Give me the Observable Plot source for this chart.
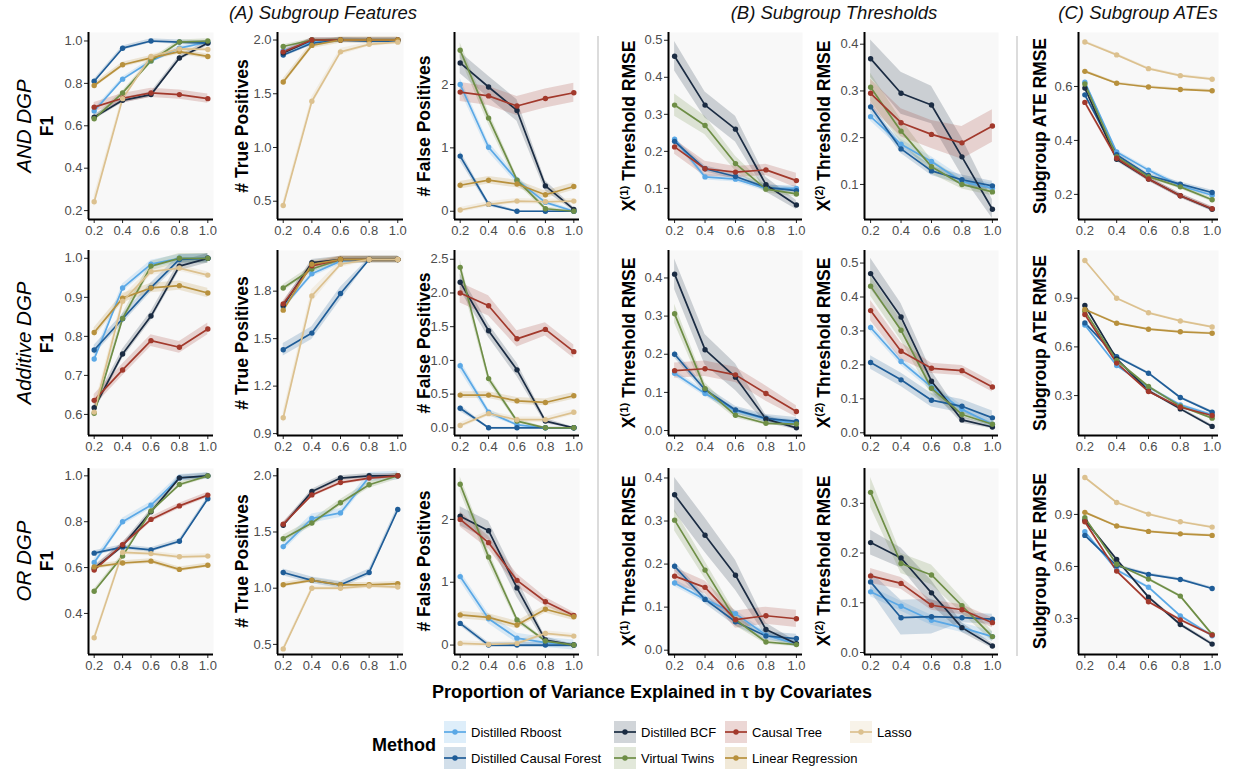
<!DOCTYPE html>
<html><head><meta charset="utf-8">
<script src="https://cdn.jsdelivr.net/npm/d3@7"></script>
<script src="https://cdn.jsdelivr.net/npm/@observablehq/plot@0.6"></script>
<style>
body{margin:0;background:#fff;font-family:"Liberation Sans",Arial,sans-serif;}
#root{position:relative;width:1243px;height:772px;overflow:hidden;background:#fff;}
.hdr{position:absolute;font-style:italic;font-size:18.5px;white-space:nowrap;transform:translate(-50%,-50%);color:#111;}
.ylab{position:absolute;font-weight:bold;font-size:17.5px;white-space:nowrap;transform:translate(-50%,-50%) rotate(-90deg);color:#000;}
.dgp{position:absolute;font-style:italic;font-size:20.5px;white-space:nowrap;transform:translate(-50%,-50%) rotate(-90deg);color:#000;}
.ylab sup{font-size:11.5px;vertical-align:7px;line-height:0;}
.sep{position:absolute;width:2px;background:#dcdcdc;}
.panel{position:absolute;}
.leg{position:absolute;font-size:13px;white-space:nowrap;transform:translateY(-50%);color:#000;}
.legkey{position:absolute;transform:translateY(-50%);}
</style></head><body><div id="root"></div>
<script>
// ---------- data ----------
const methods = ["Distilled Rboost","Distilled Causal Forest","Distilled BCF","Virtual Twins","Causal Tree","Linear Regression","Lasso"];
const colors  = ["#5aa8e6","#1f5d98","#1b2c43","#6e8e46","#a2392c","#b8913d","#dcc18f"];
const props   = [0.2,0.4,0.6,0.8,1.0];
const dgps    = ["AND DGP","Additive DGP","OR DGP"];
const metricLabels = ["F1","# True Positives","# False Positives","X<sup>(1)</sup> Threshold RMSE","X<sup>(2)</sup> Threshold RMSE","Subgroup ATE RMSE"];
const headers = ["(A) Subgroup Features","(B) Subgroup Thresholds","(C) Subgroup ATEs"];
const xTitle  = "Proportion of Variance Explained in τ by Covariates";

// series order: Rboost, Causal Forest, BCF, Virtual Twins, Causal Tree, Linear Regression, Lasso
const andF1 = [[0.67,0.82,0.906,0.966,0.995],[0.81,0.966,1.0,0.995,0.99],[0.64,0.72,0.747,0.92,0.99],[0.633,0.755,0.906,0.995,1.0],[0.688,0.73,0.755,0.747,0.728],[0.79,0.888,0.92,0.95,0.927],[0.242,0.728,0.927,0.963,0.96]];
const andF1Se = [0.01,0.01,0.012,0.01,0.022,0.012,[0.03,0.015,0.01,0.008,0.008]];
const andTP = [[1.90,1.98,2.0,2.0,2.0],[1.86,1.97,2.0,1.99,1.99],[1.88,2.0,2.0,2.0,2.0],[1.94,2.0,2.0,2.0,2.0],[1.89,2.0,2.0,2.0,2.0],[1.61,1.95,2.0,2.0,2.0],[0.46,1.43,1.89,1.96,1.98]];
const andTPSe = [0.02,0.02,0.02,0.015,0.02,0.03,[0.04,0.04,0.03,0.02,0.02]];
const andFP = [[2.0,1.01,0.49,0.14,0.0],[0.87,0.11,0.0,0.0,0.0],[2.34,1.96,1.59,0.40,0.03],[2.54,1.47,0.49,0.04,0.0],[1.88,1.82,1.66,1.78,1.87],[0.41,0.49,0.43,0.26,0.39],[0.02,0.11,0.16,0.15,0.16]];
const andFPSe = [[0.1,0.08,0.06,0.04,0.02],[0.08,0.04,0.01,0.01,0.01],[0.17,0.17,0.17,0.08,0.03],[0.12,0.1,0.06,0.03,0.01],0.15,0.06,0.04];
const andX1 = [[0.233,0.131,0.125,0.10,0.10],[0.227,0.153,0.132,0.103,0.094],[0.457,0.325,0.26,0.11,0.055],[0.325,0.27,0.167,0.098,0.085],[0.212,0.153,0.144,0.15,0.121],null,null];
const andX1Se = [0.008,0.008,[0.04,0.035,0.035,0.02,0.012],[0.03,0.025,0.02,0.01,0.008],[0.02,0.02,0.015,0.015,0.02],0,0];
const andX2 = [[0.245,0.186,0.149,0.106,0.092],[0.266,0.176,0.129,0.11,0.097],[0.369,0.295,0.27,0.159,0.047],[0.308,0.214,0.138,0.10,0.084],[0.295,0.232,0.207,0.189,0.225],null,null];
const andX2Se = [0.01,0.01,[0.04,0.045,0.04,0.04,0.02],[0.03,0.025,0.015,0.01,0.008],[0.03,0.03,0.03,0.035,0.035],0,0];
const andATE = [[0.616,0.357,0.29,0.232,0.197],[0.569,0.347,0.27,0.238,0.207],[0.594,0.33,0.257,0.195,0.145],[0.609,0.34,0.266,0.228,0.18],[0.541,0.334,0.257,0.195,0.147],[0.656,0.612,0.598,0.589,0.584],[0.765,0.717,0.666,0.64,0.627]];
const andATESe = [0.008,0.008,0.008,0.008,0.008,0.005,0.005];

const addF1 = [[0.742,0.924,0.985,1.0,1.0],[0.765,0.845,0.925,0.997,1.0],[0.617,0.755,0.852,0.98,1.0],[0.603,0.846,0.98,1.0,1.0],[0.636,0.714,0.789,0.772,0.819],[0.81,0.898,0.924,0.93,0.911],[0.606,0.89,0.966,0.975,0.957]];
const addF1Se = [0.01,0.012,0.012,0.012,0.015,0.012,[0.015,0.012,0.01,0.008,0.008]];
const addTP = [[1.70,1.91,1.99,2.0,2.0],[1.43,1.535,1.785,2.0,2.0],[1.71,1.98,2.0,2.0,2.0],[1.82,1.94,2.0,2.0,2.0],[1.72,1.96,2.0,2.0,2.0],[1.68,1.97,2.0,2.0,2.0],[1.0,1.77,1.97,2.0,2.0]];
const addTPSe = [0.02,[0.04,0.04,0.04,0.01,0.01],0.02,0.02,0.02,0.02,[0.04,0.04,0.02,0.01,0.01]];
const addFP = [[0.92,0.23,0.045,0.0,0.0],[0.29,0.0,0.0,0.0,0.0],[2.16,1.44,0.86,0.10,0.0],[2.38,0.73,0.10,0.0,0.0],[2.0,1.81,1.32,1.46,1.13],[0.485,0.485,0.40,0.376,0.475],[0.035,0.21,0.12,0.12,0.23]];
const addFPSe = [[0.08,0.05,0.02,0.01,0.01],[0.05,0.01,0.01,0.01,0.01],[0.12,0.1,0.1,0.04,0.01],[0.12,0.06,0.03,0.01,0.01],[0.15,0.15,0.12,0.1,0.1],0.05,0.04];
const addX1 = [[0.15,0.097,0.052,0.03,0.019],[0.2,0.107,0.054,0.032,0.024],[0.41,0.212,0.14,0.03,0.007],[0.306,0.11,0.04,0.019,0.017],[0.157,0.162,0.146,0.097,0.05],null,null];
const addX1Se = [0.008,0.01,[0.04,0.04,0.035,0.01,0.005],[0.025,0.015,0.008,0.005,0.005],[0.02,0.02,0.02,0.02,0.015],0,0];
const addX2 = [[0.31,0.21,0.135,0.069,0.025],[0.207,0.156,0.096,0.078,0.044],[0.469,0.341,0.152,0.038,0.017],[0.432,0.302,0.131,0.054,0.025],[0.36,0.24,0.19,0.183,0.135],null,null];
const addX2Se = [0.012,0.02,[0.045,0.04,0.03,0.01,0.005],[0.03,0.03,0.02,0.01,0.005],[0.03,0.025,0.015,0.015,0.015],0,0];
const addATE = [[0.735,0.485,0.352,0.243,0.181],[0.748,0.54,0.438,0.288,0.198],[0.855,0.526,0.33,0.218,0.11],[0.82,0.516,0.356,0.235,0.161],[0.80,0.50,0.325,0.228,0.177],[0.83,0.746,0.709,0.693,0.684],[1.132,0.90,0.81,0.76,0.723]];
const addATESe = [0.008,0.008,0.01,0.008,0.008,0.006,0.006];

const orF1 = [[0.622,0.80,0.872,0.991,1.0],[0.663,0.689,0.677,0.715,0.90],[0.596,0.695,0.843,0.991,1.0],[0.497,0.65,0.847,0.962,1.0],[0.589,0.70,0.81,0.869,0.916],[0.603,0.62,0.628,0.592,0.61],[0.294,0.666,0.661,0.647,0.65]];
const orF1Se = [0.015,0.01,0.012,0.01,0.012,0.01,0.01];
const orTP = [[1.37,1.62,1.67,1.99,2.0],[1.14,1.07,1.03,1.14,1.70],[1.56,1.86,1.98,2.0,2.0],[1.44,1.58,1.76,1.92,2.0],[1.57,1.83,1.94,1.98,2.0],[1.03,1.07,1.03,1.03,1.04],[0.46,1.0,1.0,1.02,1.01]];
const orTPSe = [0.04,0.03,0.02,0.03,0.02,0.02,0.02];
const orFP = [[1.09,0.42,0.11,0.04,0.0],[0.345,0.0,0.0,0.0,0.0],[2.05,1.82,0.91,0.08,0.0],[2.56,1.40,0.40,0.064,0.0],[2.0,1.63,1.03,0.69,0.47],[0.48,0.44,0.32,0.57,0.45],[0.027,0.01,0.027,0.186,0.143]];
const orFPSe = [0.08,0.04,[0.15,0.15,0.15,0.05,0.01],[0.12,0.1,0.05,0.02,0.01],[0.12,0.1,0.1,0.07,0.05],0.06,0.04];
const orX1 = [[0.156,0.118,0.085,0.035,0.015],[0.195,0.118,0.066,0.033,0.027],[0.361,0.267,0.174,0.048,0.015],[0.302,0.186,0.071,0.019,0.013],[0.172,0.146,0.071,0.08,0.073],null,null];
const orX1Se = [0.008,0.01,[0.04,0.04,0.035,0.015,0.005],[0.025,0.02,0.015,0.005,0.005],[0.02,0.015,0.02,0.02,0.02],0,0];
const orX2 = [[0.122,0.093,0.065,0.05,0.032],[0.142,0.07,0.072,0.07,0.067],[0.221,0.19,0.12,0.05,0.013],[0.322,0.179,0.156,0.094,0.032],[0.154,0.139,0.095,0.086,0.06],null,null];
const orX2Se = [0.01,[0.02,0.035,0.035,0.01,0.01],[0.025,0.02,0.025,0.01,0.005],[0.03,0.02,0.02,0.015,0.01],[0.015,0.012,0.01,0.01,0.01],0,0];
const orATE = [[0.80,0.58,0.48,0.315,0.2],[0.779,0.604,0.554,0.525,0.473],[0.867,0.64,0.423,0.265,0.152],[0.881,0.613,0.527,0.429,0.208],[0.858,0.573,0.396,0.292,0.204],[0.912,0.833,0.802,0.788,0.779],[1.113,0.969,0.902,0.858,0.827]];
const orATESe = [0.008,0.008,0.01,0.008,0.008,0.006,0.006];

// tick values per panel
const yTicks = [
  [[0.2,0.4,0.6,0.8,1.0],[0.5,1.0,1.5,2.0],[0,1,2],[0.1,0.2,0.3,0.4,0.5],[0.1,0.2,0.3,0.4],[0.2,0.4,0.6]],
  [[0.6,0.7,0.8,0.9,1.0],[0.9,1.2,1.5,1.8],[0,0.5,1,1.5,2,2.5],[0,0.1,0.2,0.3,0.4],[0,0.1,0.2,0.3,0.4,0.5],[0.3,0.6,0.9]],
  [[0.4,0.6,0.8,1.0],[0.5,1.0,1.5,2.0],[0,1,2],[0,0.1,0.2,0.3,0.4],[0,0.1,0.2,0.3],[0.3,0.6,0.9]]
];
const yFormats = [
  [".1f",".1f","d",".1f",".1f",".1f"],
  [".1f",".1f",".1f",".1f",".1f",".1f"],
  [".1f",".1f","d",".1f",".1f",".1f"]
];

// ---------- layout (pixels) ----------
const panelData = [
  [[andF1,andF1Se],[andTP,andTPSe],[andFP,andFPSe],[andX1,andX1Se],[andX2,andX2Se],[andATE,andATESe]],
  [[addF1,addF1Se],[addTP,addTPSe],[addFP,addFPSe],[addX1,addX1Se],[addX2,addX2Se],[addATE,addATESe]],
  [[orF1,orF1Se],[orTP,orTPSe],[orFP,orFPSe],[orX1,orX1Se],[orX2,orX2Se],[orATE,orATESe]]
];
const yDomains = [
  [[0.158,1.04],[0.33,2.07],[-0.13,2.82],[0.016,0.521],[0.025,0.425],[0.107,0.80]],
  [[0.546,1.02],[0.888,2.057],[-0.114,2.63],[-0.013,0.472],[-0.008,0.537],[0.054,1.194]],
  [[0.221,1.032],[0.41,2.065],[-0.15,2.81],[-0.01,0.422],[-0.004,0.37],[0.092,1.165]]
];
const rowsPx = [{top:32,bottom:219},{top:250,bottom:435},{top:468,bottom:654}];
const colsPx = [{left:88,right:213,lab:47},{left:277,right:403,lab:242},{left:454,right:579,lab:424},{left:668,right:802,lab:629},{left:864,right:998,lab:824},{left:1078,right:1218,lab:1040}];

const root = document.getElementById("root");
function addDiv(cls, html, x, y){
  const d = document.createElement("div"); d.className = cls; d.innerHTML = html;
  d.style.left = x + "px"; d.style.top = y + "px"; root.appendChild(d); return d;
}

function rowsOf(vals, se){
  const out = [];
  vals.forEach((arr,i)=>{
    if(!arr) return;
    const s = se[i];
    arr.forEach((v,j)=>{
      const e = Array.isArray(s) ? s[j] : s;
      out.push({m:methods[i], x:props[j], y:v, lo:v-e, hi:v+e});
    });
  });
  return out;
}

const mL = 40, mR = 3, mT = 3, mB = 24;
rowsPx.forEach((r,ri)=>{
  colsPx.forEach((c,ci)=>{
    const [vals, se] = panelData[ri][ci];
    const data = rowsOf(vals, se);
    const ydom = yDomains[ri][ci];
    const w = c.right - c.left + mL + mR;
    const h = r.bottom - r.top + mT + mB;
    const svg = Plot.plot({
      width: w, height: h,
      marginLeft: mL, marginRight: mR, marginTop: mT, marginBottom: mB,
      style: {fontFamily:"'Liberation Sans', Arial, sans-serif", fontSize:"13px", background:"transparent", overflow:"visible"},
      x: {domain:[0.16,1.04]},
      y: {domain: ydom},
      color: {domain: methods, range: colors},
      marks: [
        Plot.frame({fill:"#f8f8f8", stroke:null}),
        Plot.areaY(data, {x:"x", y1:"lo", y2:"hi", fill:"m", z:"m", fillOpacity:0.2}),
        Plot.line(data, {x:"x", y:"y", stroke:"m", z:"m", strokeWidth:1.7}),
        Plot.dot(data, {x:"x", y:"y", fill:"m", r:2.7}),
        Plot.axisX({ticks: props, tickFormat: d3.format(".1f"), tickSize:4, tickPadding:2, label:null, stroke:"#222", fill:"#4d4d4d", fontSize:13}),
        Plot.axisY({ticks: yTicks[ri][ci], tickFormat: d3.format(yFormats[ri][ci]), tickSize:4, tickPadding:2, label:null, stroke:"#222", fill:"#4d4d4d", fontSize:13}),
        Plot.ruleX([0.16], {stroke:"#000", strokeWidth:2}),
        Plot.ruleY([ydom[0]], {stroke:"#000", strokeWidth:2})
      ]
    });
    svg.classList.add("panel");
    svg.style.position = "absolute";
    svg.style.left = (c.left - mL) + "px";
    svg.style.top = (r.top - mT) + "px";
    root.appendChild(svg);
    // y axis title
    addDiv("ylab", metricLabels[ci], c.lab, (r.top + r.bottom)/2);
  });
  addDiv("dgp", dgps[ri], 24, (r.top + r.bottom)/2);
});

// column headers
addDiv("hdr", headers[0], 323, 13);
addDiv("hdr", headers[1], 834, 13);
addDiv("hdr", headers[2], 1138, 13);

// separators
[597, 1016].forEach(x=>{
  const d = document.createElement("div"); d.className="sep";
  d.style.left = x+"px"; d.style.top = "36px"; d.style.height = "620px"; root.appendChild(d);
});

// x title
const xt = addDiv("hdr", xTitle, 652, 692);
xt.style.fontStyle = "normal"; xt.style.fontWeight = "bold"; xt.style.fontSize = "18px"; xt.style.color="#000";

// legend
const lt = addDiv("hdr", "Method", 404, 745);
lt.style.fontStyle = "normal"; lt.style.fontWeight = "bold"; lt.style.fontSize = "18px"; lt.style.color="#000";
const legCols = [444, 614, 725, 850];
const legRows = [732, 758];
methods.forEach((m,i)=>{
  const col = Math.floor(i/2), row = i%2;
  const kx = legCols[col], ky = legRows[row];
  const key = document.createElementNS("http://www.w3.org/2000/svg","svg");
  key.setAttribute("width","22"); key.setAttribute("height","22");
  key.setAttribute("class","legkey");
  key.style.left = kx+"px"; key.style.top = ky+"px";
  key.innerHTML = `<rect x="0" y="0" width="22" height="22" fill="${colors[i]}" fill-opacity="0.2"/>`+
    `<line x1="0" y1="11" x2="22" y2="11" stroke="${colors[i]}" stroke-width="1.7"/>`+
    `<circle cx="11" cy="11" r="2.7" fill="${colors[i]}"/>`;
  root.appendChild(key);
  addDiv("leg", m, kx + 27, ky);
});
</script></body></html>
